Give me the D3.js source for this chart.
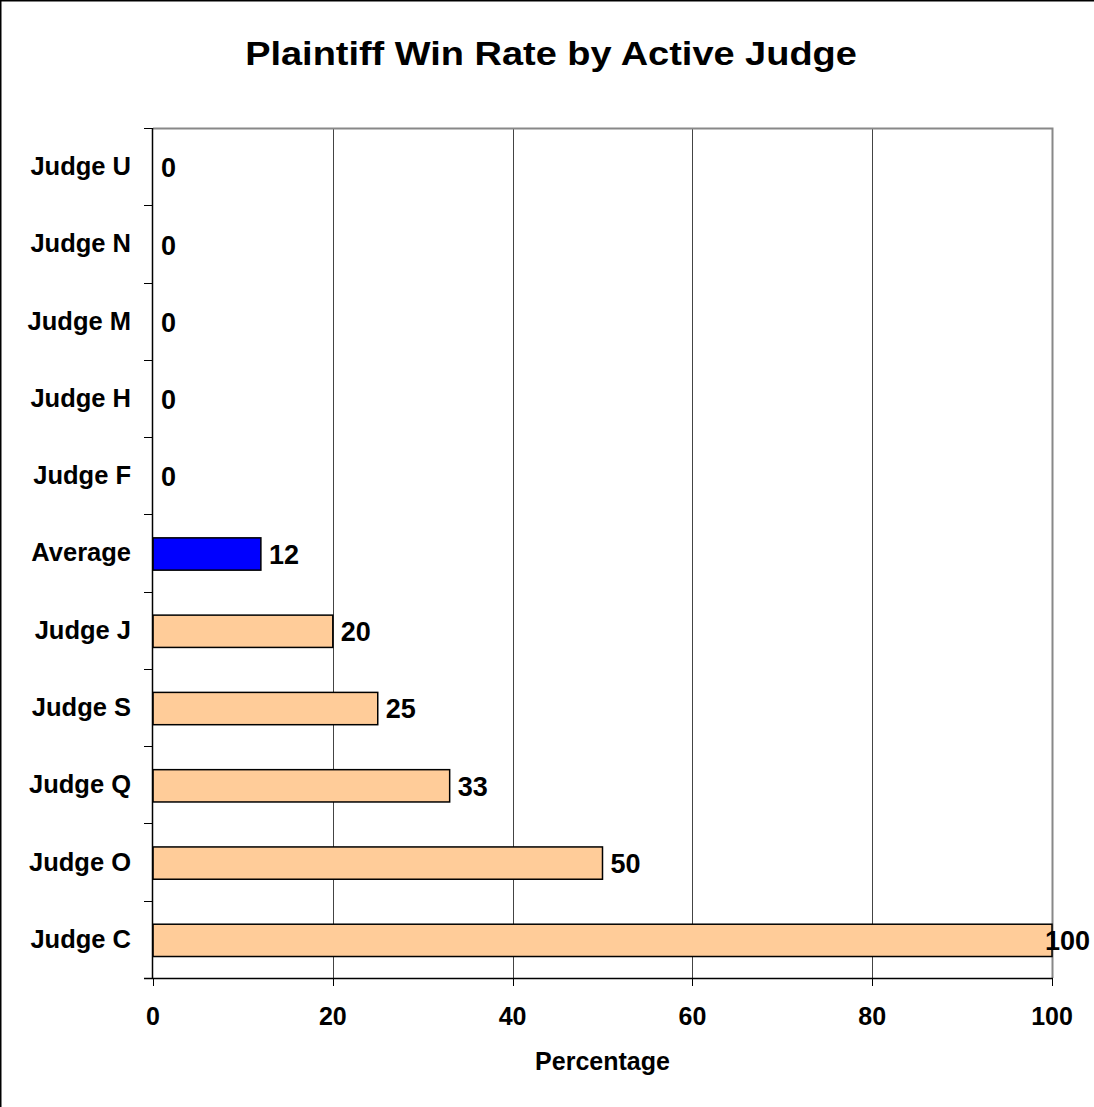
<!DOCTYPE html>
<html>
<head>
<meta charset="utf-8">
<script src="https://cdn.jsdelivr.net/npm/d3@7"></script>
<style>
  html, body { margin: 0; padding: 0; background: #fff; }
  svg { display: block; font-family: "Liberation Sans", Arial, sans-serif; font-weight: bold; }
</style>
</head>
<body>
<svg id="chart" width="1094" height="1107"></svg>
<script>
const categories = ["Judge U", "Judge N", "Judge M", "Judge H", "Judge F", "Average", "Judge J", "Judge S", "Judge Q", "Judge O", "Judge C"];
const values = [0, 0, 0, 0, 0, 12, 20, 25, 33, 50, 100];
const highlight = ["Average"];
const xTicks = [0, 20, 40, 60, 80, 100];
const titleText = "Plaintiff Win Rate by Active Judge";
const xAxisTitle = "Percentage";

const W = 1094, H = 1107;
const plot = { left: 153, right: 1052, top: 128, bottom: 978 };
const svg = d3.select("#chart");

// outer chart border (right/bottom clipped as in reference)
svg.append("rect").attr("x", 0.75).attr("y", 0.75).attr("width", W + 10).attr("height", H + 10)
  .attr("fill", "#fff").attr("stroke", "#000").attr("stroke-width", 1.5);

const x = d3.scaleLinear().domain([0, 100]).range([plot.left, plot.right]);
const y = d3.scaleBand().domain(categories).range([plot.top, plot.bottom]).paddingInner(0).paddingOuter(0);
const barH = y.bandwidth() * 0.418;

// gridlines
svg.append("g").selectAll("line").data(xTicks.filter(t => t > 0 && t < 100)).join("line")
  .attr("x1", d => Math.round(x(d)) + 0.5).attr("x2", d => Math.round(x(d)) + 0.5)
  .attr("y1", plot.top).attr("y2", plot.bottom)
  .attr("stroke", "#444").attr("stroke-width", 1);

// plot border top & right (gray)
svg.append("path")
  .attr("d", `M${plot.left},${plot.top + 0.5} H${plot.right + 0.5} V${plot.bottom}`)
  .attr("fill", "none").attr("stroke", "#888").attr("stroke-width", 2);

// bars
svg.append("g").selectAll("rect").data(categories).join("rect")
  .attr("x", x(0))
  .attr("y", (d) => y(d) + y.bandwidth() / 2 - barH / 2 + 1)
  .attr("width", (d, i) => x(values[i]) - x(0))
  .attr("height", barH)
  .attr("fill", d => highlight.includes(d) ? "#0000FF" : "#FFCC99")
  .attr("stroke", "#000").attr("stroke-width", 1.5)
  .style("display", (d, i) => values[i] > 0 ? null : "none");

// left axis
const yAxisG = svg.append("g");
yAxisG.append("line").attr("x1", plot.left - 0.5).attr("x2", plot.left - 0.5)
  .attr("y1", plot.top).attr("y2", plot.bottom).attr("stroke", "#000").attr("stroke-width", 1.5);
const bounds = categories.map(c => y(c)).concat([y(categories[categories.length - 1]) + y.bandwidth()]);
yAxisG.selectAll("line.tick").data(bounds).join("line").attr("class", "tick")
  .attr("x1", plot.left - 9).attr("x2", plot.left)
  .attr("y1", d => Math.round(d) + 0.5).attr("y2", d => Math.round(d) + 0.5)
  .attr("stroke", "#000").attr("stroke-width", 1);
yAxisG.selectAll("text").data(categories).join("text")
  .attr("x", 131).attr("y", d => y(d) + y.bandwidth() / 2)
  .attr("dy", "0.33em").attr("text-anchor", "end")
  .attr("font-size", 25.5).attr("fill", "#000").text(d => d);

// bottom axis
const xAxisG = svg.append("g");
xAxisG.append("line").attr("x1", plot.left - 9).attr("x2", plot.right + 1)
  .attr("y1", plot.bottom + 0.5).attr("y2", plot.bottom + 0.5).attr("stroke", "#000").attr("stroke-width", 1.5);
xAxisG.selectAll("line.tick").data(xTicks).join("line").attr("class", "tick")
  .attr("x1", d => Math.round(x(d)) + 0.5).attr("x2", d => Math.round(x(d)) + 0.5)
  .attr("y1", plot.bottom).attr("y2", plot.bottom + 8)
  .attr("stroke", "#000").attr("stroke-width", 1);
xAxisG.selectAll("text").data(xTicks).join("text")
  .attr("x", d => x(d)).attr("y", 1025).attr("text-anchor", "middle")
  .attr("font-size", 25).attr("fill", "#000").text(d => d);

// x axis title
svg.append("text").attr("x", (plot.left + plot.right) / 2).attr("y", 1070)
  .attr("text-anchor", "middle").attr("font-size", 25).attr("fill", "#000").text(xAxisTitle);

// data labels
const labels = svg.append("g").selectAll("text").data(categories).join("text")
  .attr("y", d => y(d) + y.bandwidth() / 2 + 1)
  .attr("dy", "0.36em").attr("font-size", 27).attr("fill", "#000")
  .text((d, i) => values[i]);
labels.each(function (d, i) {
  const tw = this.getComputedTextLength();
  const px = Math.min(x(values[i]) + 8, W - 4 - tw);
  d3.select(this).attr("x", px);
});

// title (horizontally stretched, as in the reference)
const titleG = svg.append("g").attr("transform", "translate(551,65)");
const title = titleG.append("text").attr("x", 0).attr("y", 0).attr("text-anchor", "middle")
  .attr("font-size", 34).attr("fill", "#000").text(titleText);
const tw = title.node().getComputedTextLength();
const targetW = 612;
titleG.attr("transform", `translate(551,65) scale(${(targetW / tw).toFixed(4)},1)`);
</script>
</body>
</html>
